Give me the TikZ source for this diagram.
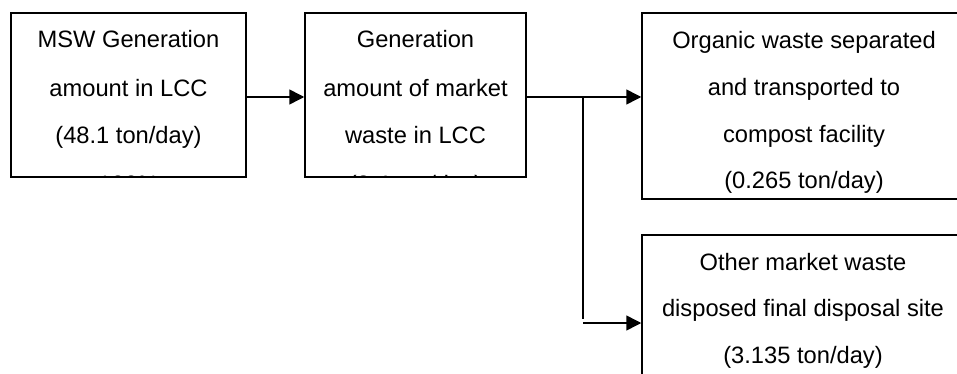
\documentclass[tikz,border=0pt]{standalone}
\usepackage{fontspec}
\setmainfont{Liberation Sans}
\usetikzlibrary{arrows.meta,calc}

\begin{document}
\begin{tikzpicture}[x=1pt,y=-1pt,
  box/.style={draw,line width=1.5pt,rectangle,inner sep=0pt},
  label/.style={align=center,inner sep=0pt,anchor=base,font=\fontsize{23.7}{48}\selectfont},
  tight/.style={font=\fontsize{23.7}{46.5}\selectfont},
  flow/.style={line width=1.5pt,-{Triangle[length=15pt,width=15pt]}},
  link/.style={line width=1.5pt}]
\useasboundingbox (0,0) rectangle (957,374);
\clip (0,0) rectangle (957,374);

% boxes
\node[box, minimum width=235pt, minimum height=164pt] (b1) at (128.5,95) {};
\node[box, minimum width=221pt, minimum height=164pt] (b2) at (415.5,95) {};
\node[box, minimum width=328pt, minimum height=186pt] (b3) at (806,106) {};
\node[box, minimum width=328pt, minimum height=165pt] (b4) at (806,317.5) {};

% box texts, placed by the baseline of their last line
% (the last line of the first two boxes runs past the frame)
\begin{scope}
  \clip (b1.south west) rectangle (b1.north east);
  \node[label] (t1) at (128.5,192) {MSW Generation\\amount in LCC\\(48.1 ton/day)\\100\%};
\end{scope}
\begin{scope}
  \clip (b2.south west) rectangle (b2.north east);
  \node[label] (t2) at (415.5,192) {Generation\\amount of market\\waste in LCC\\(3.4 ton/day)};
\end{scope}
\node[label, tight] (t3) at (804,188.5) {Organic waste separated\\and transported to\\compost facility\\(0.265 ton/day)};
\node[label, tight] (t4) at (803,363) {Other market waste\\disposed final disposal site\\(3.135 ton/day)};

% connectors
\coordinate (row) at (0,97);
\coordinate (split) at (583,97);
\coordinate (splitend) at (583,319);
\coordinate (low) at (583,323);
\draw[flow] (b1.east |- row) -- (b2.west |- row);
\draw[flow] (b2.east |- row) -- (b3.west |- row);
\draw[link] (split) -- (splitend);
\draw[flow] (low) -- (b4.west |- low);
\end{tikzpicture}
\end{document}
